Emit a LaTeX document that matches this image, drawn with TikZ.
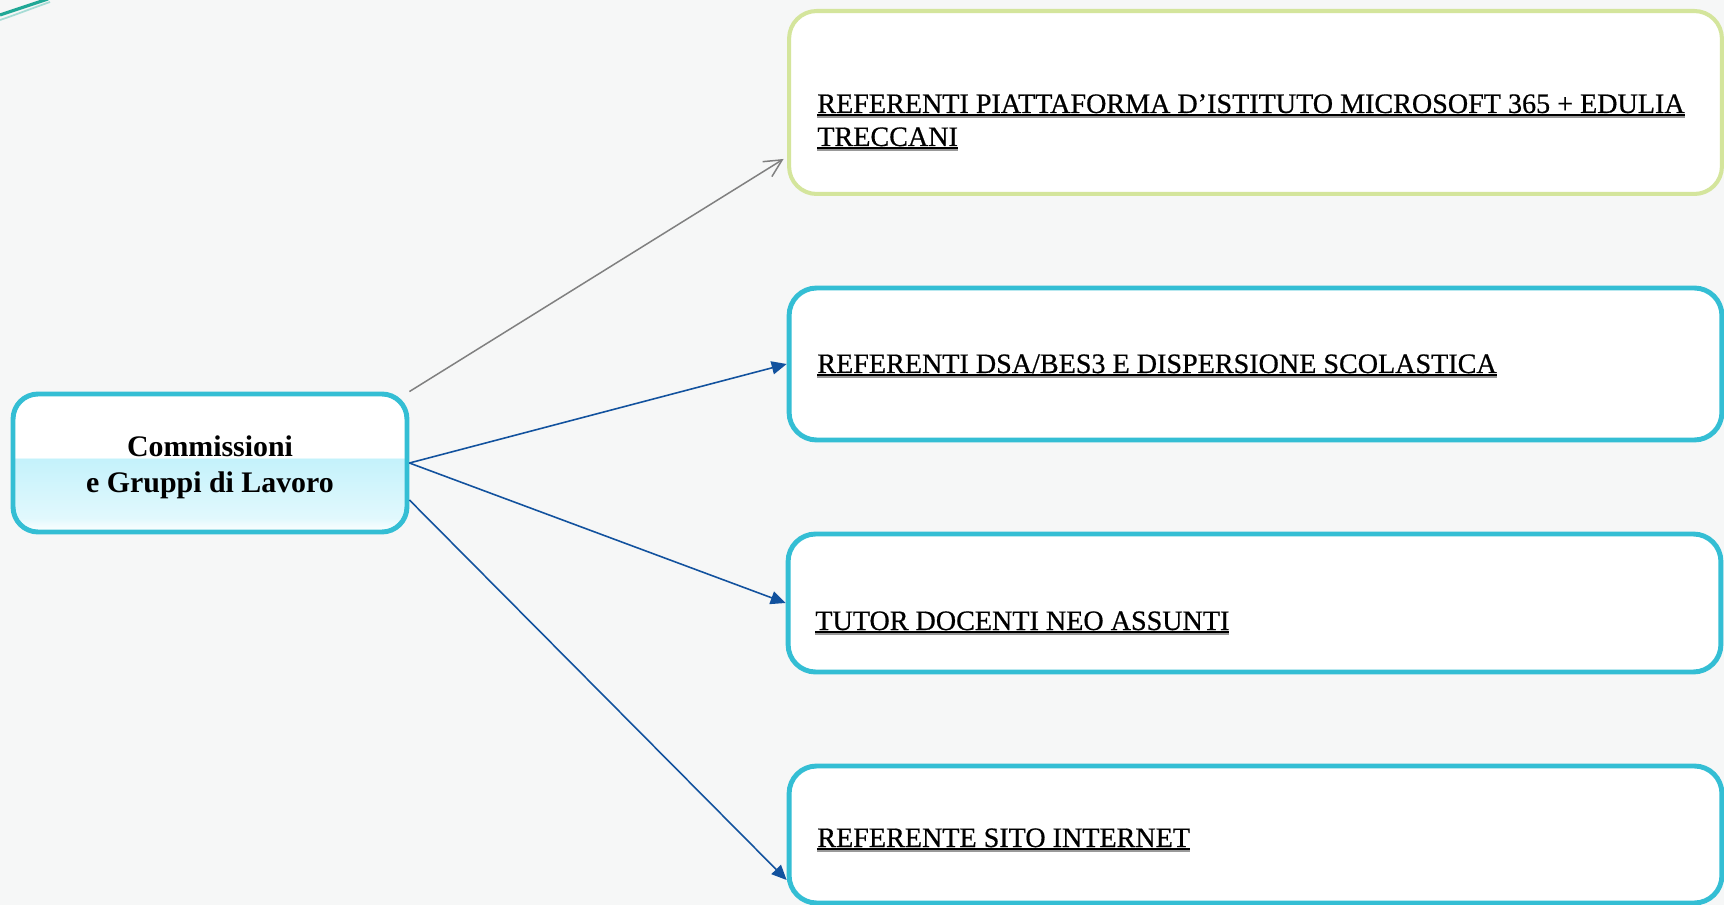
\documentclass[tikz,border=0pt]{standalone}
\usepackage{fontspec}
\setmainfont{Liberation Serif}
\newfontfamily\heavyserif{Liberation Serif}[FakeBold=0.6]
\usetikzlibrary{arrows.meta}

\definecolor{boxcyan}{RGB}{52,190,212}
\definecolor{boxgreen}{RGB}{212,229,156}
\definecolor{arrowblue}{RGB}{18,82,158}
\definecolor{hubcyan}{RGB}{196,242,251}
\definecolor{paper}{RGB}{246,247,247}
\definecolor{swoosh}{RGB}{32,168,150}

\pgfdeclareverticalshading{hubshade}{100bp}{color(0bp)=(white); color(25bp)=(white); color(30bp)=(hubcyan!50); color(51.6bp)=(hubcyan); color(52bp)=(white); color(100bp)=(white)}

% underline with a grey shadow under it
\newcommand{\shadowline}[1]{\setbox0=\hbox{#1}\rlap{\color{black!40}\rule[-2.9pt]{\wd0}{1.4pt}}\rlap{\rule[-1.5pt]{\wd0}{0.9pt}}\box0}

\tikzstyle{hub} = [draw=boxcyan, line width=2.8pt, rounded corners=0.5cm, shading=hubshade, minimum width=7.88cm, minimum height=2.76cm, align=center, font=\bfseries\fontsize{17}{20.5}\selectfont]
\tikzstyle{cyan box} = [draw=boxcyan, line width=2.8pt, rounded corners=0.55cm, fill=white, minimum width=18.66cm, inner sep=0pt]
\tikzstyle{green box} = [cyan box, draw=boxgreen, line width=2.3pt]
\tikzstyle{box text} = [anchor=base west, inner sep=0pt, align=left, font=\heavyserif\fontsize{16}{18.8}\selectfont]
\tikzstyle{plain arrow} = [draw, line width=0.85pt, black!50, -{Straight Barb[length=10pt,width=10pt]}]
\tikzstyle{blue arrow} = [draw, line width=0.9pt, arrowblue, -{Triangle[length=8.5pt,width=7.5pt]}]

\def\groups{{(1255.5,102.5)/piatt/3.66cm/green box}, {(1255.5,364)/dsa/3.04cm/cyan box}, {(1254.5,603)/tutor/2.76cm/cyan box}, {(1255.5,834.5)/sito/2.74cm/cyan box}}

\begin{document}
\begin{tikzpicture}[x=0.02cm, y=-0.02cm]

  \fill[paper] (0,0) rectangle (1724,905);
  \useasboundingbox (0,0) rectangle (1724,905);

  \draw[swoosh, line width=1.8pt] (0,15) .. controls (15,10) and (30,5) .. (48,-1);
  \draw[swoosh!40, line width=1pt] (0,20) .. controls (15,15) and (30,9) .. (50,2);

  \node[hub] (hub) at (210,463) {\rule{0pt}{16.3pt}Commissioni\\e Gruppi di Lavoro};

  \foreach \pos/\name/\h/\sty in \groups {
    \node[\sty, minimum height=\h] (\name) at \pos {};
    }

  \node[box text] (piatt-t) at (817,146) {\shadowline{REFERENTI PIATTAFORMA D’ISTITUTO MICROSOFT 365 + EDULIA}\\\shadowline{TRECCANI}};
  \node[box text] (dsa-t) at (817,373) {\shadowline{REFERENTI DSA/BES3 E DISPERSIONE SCOLASTICA}};
  \node[box text] (tutor-t) at (815,630) {\shadowline{TUTOR DOCENTI NEO ASSUNTI}};
  \node[box text] (sito-t) at (817,847) {\shadowline{REFERENTE SITO INTERNET}};

  \path[plain arrow] (hub.north east) -- ([xshift=-0.07cm, yshift=-1.13cm]piatt.west);
  \path[blue arrow] (hub.east) -- (dsa.west);
  \path[blue arrow] (hub.east) -- (tutor.west);
  \path[blue arrow] ([yshift=-0.74cm]hub.east) -- ([yshift=-0.91cm]sito.west);

\end{tikzpicture}
\end{document}
